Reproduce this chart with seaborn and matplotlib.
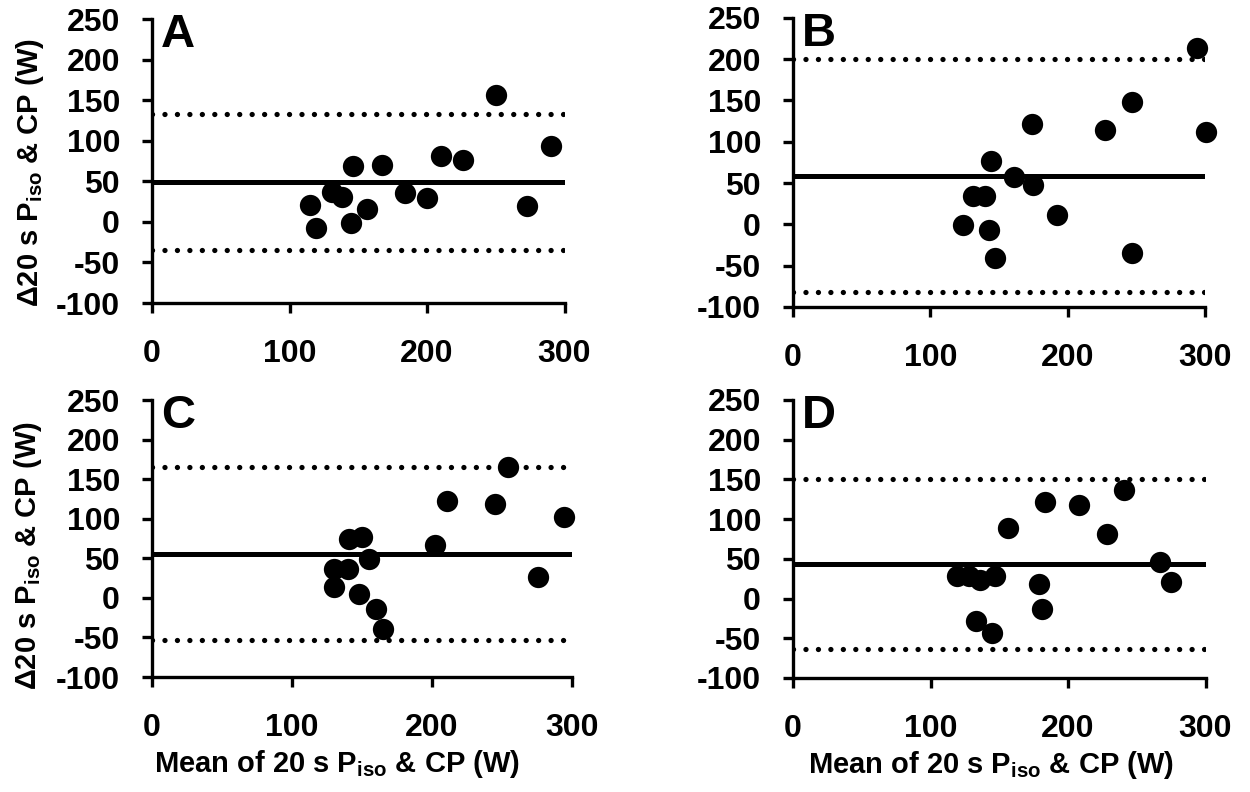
import numpy as np
import pandas as pd
import matplotlib
matplotlib.use("Agg")
import matplotlib.pyplot as plt
import seaborn as sns

# Bland-Altman data: mean of 20 s Piso & CP (x) vs difference (y)
a_mean = [250, 290, 210, 226, 146, 167, 131, 138, 184, 200, 115, 156, 119, 145, 273]
a_diff = [156, 94, 81, 76, 69, 70, 37, 31, 35, 29, 21, 16, -7, -1, 19]
a_bias, a_upper, a_lower = 49, 133, -35

b_mean = [294, 247, 174, 227, 301, 144, 161, 175, 131, 140, 192, 124, 143, 147, 247]
b_diff = [213, 148, 122, 114, 112, 77, 57, 48, 34, 34, 11, -1, -7, -41, -35]
b_bias, b_upper, b_lower = 59, 200, -82

c_mean = [254, 211, 245, 294, 141, 150, 202, 155, 130, 140, 130, 148, 160, 165, 276]
c_diff = [165, 123, 118, 102, 74, 77, 67, 49, 36, 37, 14, 5, -14, -39, 27]
c_bias, c_upper, c_lower = 56, 165, -53

d_mean = [241, 183, 208, 156, 228, 267, 275, 119, 128, 136, 147, 179, 181, 133, 145]
d_diff = [137, 121, 118, 89, 81, 46, 21, 28, 28, 23, 28, 18, -13, -28, -44]
d_bias, d_upper, d_lower = 44, 151, -63

panel_letters = ["A", "B", "C", "D"]
x_ticks = [0, 100, 200, 300]
y_ticks = [-100, -50, 0, 50, 100, 150, 200, 250]
x_label = "Mean of 20 s P$_{\\mathrm{iso}}$ & CP (W)"
y_label = "\u039420 s P$_{\\mathrm{iso}}$ & CP (W)"

sns.set_style("ticks")
plt.rcParams["font.family"] = ["Liberation Sans", "DejaVu Sans"]
plt.rcParams["font.weight"] = "bold"
plt.rcParams["axes.unicode_minus"] = False
plt.rcParams["text.color"] = "black"
plt.rcParams["axes.labelcolor"] = "black"
plt.rcParams["xtick.color"] = "black"
plt.rcParams["ytick.color"] = "black"
plt.rcParams["mathtext.fontset"] = "custom"
plt.rcParams["mathtext.rm"] = "Liberation Sans:bold"
plt.rcParams["mathtext.default"] = "rm"

fig = plt.figure(figsize=(12.5, 7.92), dpi=100)
rects = [
    [0.1216, 0.6174, 0.330, 0.3586],
    [0.6344, 0.6124, 0.3296, 0.365],
    [0.1216, 0.1452, 0.336, 0.3497],
    [0.6344, 0.1440, 0.330, 0.351],
]
panels = [
    (a_mean, a_diff, a_bias, a_upper, a_lower),
    (b_mean, b_diff, b_bias, b_upper, b_lower),
    (c_mean, c_diff, c_bias, c_upper, c_lower),
    (d_mean, d_diff, d_bias, d_upper, d_lower),
]

for i, (rect, (xm, yd, bias, up, lo), letter) in enumerate(zip(rects, panels, panel_letters)):
    ax = fig.add_axes(rect)
    df = pd.DataFrame({"mean": xm, "diff": yd})
    ax.axhline(bias, color="black", lw=3.6, zorder=1)
    for lim in (up, lo):
        ax.axhline(lim, color="black", lw=3.8, ls=(0, (0.01, 2.35)),
                   dash_capstyle="round", zorder=1)
    sns.scatterplot(data=df, x="mean", y="diff", ax=ax, color="black",
                    s=235, edgecolor="black", linewidth=0, zorder=3,
                    clip_on=False)
    ax.set_xlim(0, 300)
    ax.set_ylim(-100, 250)
    ax.set_xticks(x_ticks)
    ax.set_yticks(y_ticks)
    ax.tick_params(axis="both", direction="out", length=7, width=2.4,
                   labelsize=23, colors="black")
    ax.tick_params(axis="x", pad=19)
    ax.tick_params(axis="y", pad=16)
    for lab in ax.get_xticklabels() + ax.get_yticklabels():
        lab.set_fontweight("bold")
    sns.despine(ax=ax)
    for side in ("left", "bottom"):
        ax.spines[side].set_linewidth(2.4)
        ax.spines[side].set_color("black")
    ax.set_facecolor("white")
    ax.text(0.022, 1.02, letter, transform=ax.transAxes, ha="left", va="top",
            fontsize=34, fontweight="bold", color="black")
    if i in (0, 2):
        ax.set_ylabel(y_label, fontsize=21, fontweight="bold", va="center",
                      color="black")
        ax.yaxis.set_label_coords(-0.295, 0.46 if i == 0 else 0.44)
    else:
        ax.set_ylabel("")
    if i in (2, 3):
        ax.set_xlabel(x_label, fontsize=21, fontweight="bold", color="black")
        ax.xaxis.set_label_coords(0.44 if i == 2 else 0.48, -0.255)
    else:
        ax.set_xlabel("")

fig.savefig("out.png", dpi=100, facecolor="white")
